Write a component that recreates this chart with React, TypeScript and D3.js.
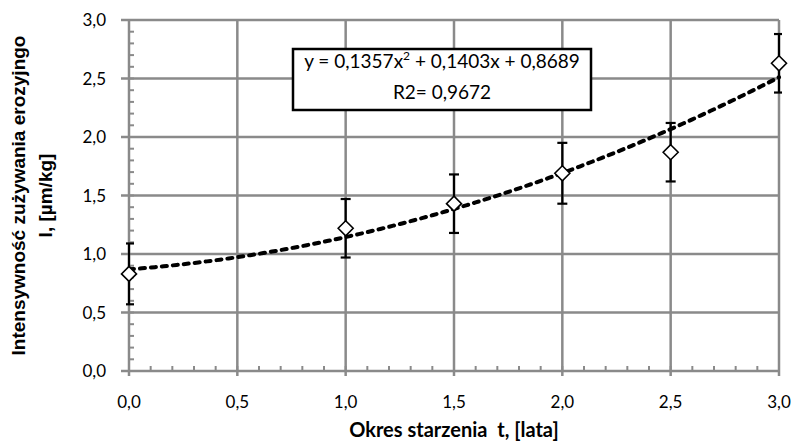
import React from 'react';
import * as d3 from 'd3';

const xValues = [0, 1, 1.5, 2, 2.5, 3];
const yValues = [0.83, 1.22, 1.43, 1.69, 1.87, 2.63];
const yErrors = [0.26, 0.25, 0.25, 0.26, 0.25, 0.25];
const trendCoefficients = [0.1357, 0.1403, 0.8689];
const xTicks = [0, 0.5, 1, 1.5, 2, 2.5, 3];
const yTicks = [0, 0.5, 1, 1.5, 2, 2.5, 3];
const xTitle = 'Okres starzenia  t, [lata]';
const yTitleLines = ['Intensywność zużywania erozyjngo', 'I, [µm/kg]'];
const equationText = ['y = 0,1357x', '2', ' + 0,1403x + 0,8689'];
const r2Text = 'R2= 0,9672';

const W = 794;
const H = 442;
const M = { left: 129, right: 779, top: 20, bottom: 371 };
const GRID = '#8a8a8a';
const fmt = (v: number) => v.toFixed(1).replace('.', ',');

export default function App() {
  const x = d3.scaleLinear().domain([0, 3]).range([M.left, M.right]);
  const y = d3.scaleLinear().domain([0, 3]).range([M.bottom, M.top]);
  const minor = d3.range(0, 3.0001, 0.1);
  const [a, b, c] = trendCoefficients;
  const trendX = d3.range(0, 3.0001, 0.02);
  const trendPath = d3.line<number>()
    .x((t) => x(t))
    .y((t) => y(a * t * t + b * t + c))(trendX) as string;
  const tickFont = 'Lato, "Open Sans", sans-serif';
  const boxX = 293, boxY = 49, boxW = 298, boxH = 61;

  return (
    <svg width={W} height={H} style={{ position: 'absolute', left: 0, top: 0, background: '#fff' }}>
      <defs>
        <clipPath id="plotclip">
          <rect x={M.left - 3} y={M.top - 20} width={M.right - M.left + 6} height={M.bottom - M.top + 40} />
        </clipPath>
      </defs>
      {yTicks.map((t) => (
        <line key={'gy' + t} x1={M.left - 8} x2={M.right} y1={y(t)} y2={y(t)} stroke={GRID} strokeWidth={2.5} />
      ))}
      {xTicks.map((t) => (
        <line key={'gx' + t} x1={x(t)} x2={x(t)} y1={M.top} y2={M.bottom + 5} stroke={GRID} strokeWidth={2.5} />
      ))}
      {minor.map((t, i) => (
        <g key={'m' + i}>
          <line x1={M.left} x2={M.left + 5} y1={y(t)} y2={y(t)} stroke={GRID} strokeWidth={2} />
          <line x1={x(t)} x2={x(t)} y1={M.bottom} y2={M.bottom - 5} stroke={GRID} strokeWidth={2} />
        </g>
      ))}
      {yTicks.map((t) => (
        <text key={'ly' + t} x={106} y={y(t)} dy="0.36em" textAnchor="end" fontFamily={tickFont} fontSize={17} fill="#000">
          {fmt(t)}
        </text>
      ))}
      {xTicks.map((t) => (
        <text key={'lx' + t} x={x(t)} y={408} textAnchor="middle" fontFamily={tickFont} fontSize={17} fill="#000">
          {fmt(t)}
        </text>
      ))}
      <text x={(M.left + M.right) / 2} y={437} textAnchor="middle" fontFamily={tickFont} fontWeight="bold" fontSize={20} fill="#000" style={{ whiteSpace: 'pre' }}>
        {xTitle}
      </text>
      {yTitleLines.map((s, i) => (
        <text key={'yt' + i} transform={`translate(${25 + i * 27},${(M.top + M.bottom) / 2}) rotate(-90)`} textAnchor="middle"
          fontFamily='"Liberation Sans Narrow", "Arial Narrow", sans-serif' fontWeight="bold" fontSize={19} fill="#000">
          {s}
        </text>
      ))}
      <g clipPath="url(#plotclip)">
        {xValues.map((xv, i) => (
          <g key={'e' + i} stroke="#000" strokeWidth={2.2}>
            <line x1={x(xv)} x2={x(xv)} y1={y(yValues[i] + yErrors[i])} y2={y(yValues[i] - yErrors[i])} />
            <line x1={x(xv) - 5} x2={x(xv) + 5} y1={y(yValues[i] + yErrors[i])} y2={y(yValues[i] + yErrors[i])} />
            <line x1={x(xv) - 5} x2={x(xv) + 5} y1={y(yValues[i] - yErrors[i])} y2={y(yValues[i] - yErrors[i])} />
          </g>
        ))}
      </g>
      <path d={trendPath} fill="none" stroke="#000" strokeWidth={4} strokeDasharray="5,6" strokeLinecap="round" />
      {xValues.map((xv, i) => {
        const cx = x(xv), cy = y(yValues[i]);
        return (
          <path key={'d' + i} d={`M${cx},${cy - 7.5}L${cx + 7.5},${cy}L${cx},${cy + 7.5}L${cx - 7.5},${cy}Z`} fill="#fff" stroke="#000" strokeWidth={1.6} />
        );
      })}
      <rect x={boxX} y={boxY} width={boxW} height={boxH} fill="#fff" stroke="#000" strokeWidth={2.5} />
      <text x={boxX + boxW / 2} y={68} textAnchor="middle" fontFamily={tickFont} fontSize={19} fill="#000">
        <tspan>{equationText[0]}</tspan>
        <tspan dy={-8} fontSize={12}>{equationText[1]}</tspan>
        <tspan dy={8}>{equationText[2]}</tspan>
      </text>
      <text x={boxX + boxW / 2} y={99} textAnchor="middle" fontFamily={tickFont} fontSize={19} fill="#000">
        {r2Text}
      </text>
    </svg>
  );
}
